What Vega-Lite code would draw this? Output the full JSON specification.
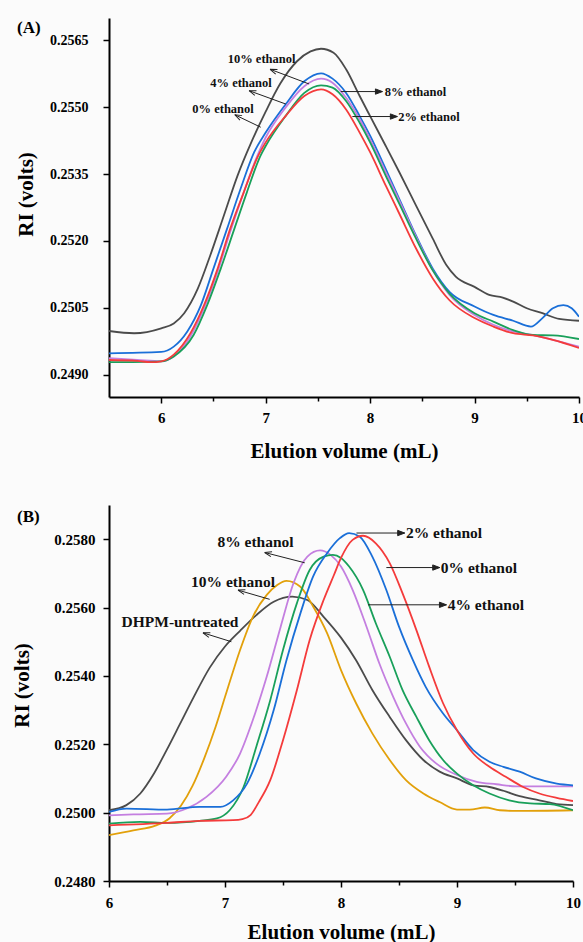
{
  "$schema": "https://vega.github.io/schema/vega-lite/v6.json",
  "background": "#fbfbfb",
  "padding": {"left": 11, "top": 18, "right": 0, "bottom": 0},
  "spacing": 44,
  "align": "none",
  "resolve": {"scale": {"color": "independent"}},
  "config": {
    "font": "Liberation Serif",
    "view": {"stroke": null},
    "axis": {"labelFont": "Liberation Serif", "labelFontWeight": "bold", "titleFont": "Liberation Serif", "titleFontWeight": "bold", "titleFontSize": 21, "domainColor": "black", "domainWidth": 2, "tickColor": "black", "tickWidth": 1.5, "labelColor": "black", "titleColor": "black", "grid": false, "labelOverlap": false, "labelFlush": false}
  },
  "datasets": {
    "curvesA": [
      {"series":"0% ethanol","x":5.5,"y":0.24998},{"series":"0% ethanol","x":5.74,"y":0.24993},{"series":"0% ethanol","x":6.0,"y":0.25004},{"series":"0% ethanol","x":6.12,"y":0.25015},{"series":"0% ethanol","x":6.22,"y":0.25038},{"series":"0% ethanol","x":6.35,"y":0.25093},{"series":"0% ethanol","x":6.47,"y":0.25168},{"series":"0% ethanol","x":6.6,"y":0.25257},{"series":"0% ethanol","x":6.73,"y":0.25346},{"series":"0% ethanol","x":6.86,"y":0.2542},{"series":"0% ethanol","x":7.0,"y":0.2549},{"series":"0% ethanol","x":7.14,"y":0.25553},{"series":"0% ethanol","x":7.3,"y":0.25603},{"series":"0% ethanol","x":7.43,"y":0.25625},{"series":"0% ethanol","x":7.53,"y":0.25631},{"series":"0% ethanol","x":7.65,"y":0.25622},{"series":"0% ethanol","x":7.77,"y":0.25585},{"series":"0% ethanol","x":7.9,"y":0.25525},{"series":"0% ethanol","x":8.0,"y":0.2548},{"series":"0% ethanol","x":8.15,"y":0.25413},{"series":"0% ethanol","x":8.28,"y":0.25354},{"series":"0% ethanol","x":8.44,"y":0.25279},{"series":"0% ethanol","x":8.6,"y":0.25205},{"series":"0% ethanol","x":8.73,"y":0.25146},{"series":"0% ethanol","x":8.82,"y":0.2512},{"series":"0% ethanol","x":9.0,"y":0.25097},{"series":"0% ethanol","x":9.14,"y":0.25079},{"series":"0% ethanol","x":9.27,"y":0.25073},{"series":"0% ethanol","x":9.37,"y":0.25064},{"series":"0% ethanol","x":9.5,"y":0.25049},{"series":"0% ethanol","x":9.65,"y":0.25038},{"series":"0% ethanol","x":9.81,"y":0.25025},{"series":"0% ethanol","x":10.0,"y":0.25021},
      {"series":"4% ethanol","x":5.5,"y":0.24948},{"series":"4% ethanol","x":6.0,"y":0.24951},{"series":"4% ethanol","x":6.12,"y":0.24963},{"series":"4% ethanol","x":6.25,"y":0.24997},{"series":"4% ethanol","x":6.38,"y":0.25056},{"series":"4% ethanol","x":6.5,"y":0.25138},{"series":"4% ethanol","x":6.63,"y":0.25227},{"series":"4% ethanol","x":6.76,"y":0.25317},{"series":"4% ethanol","x":6.89,"y":0.25399},{"series":"4% ethanol","x":7.0,"y":0.25443},{"series":"4% ethanol","x":7.19,"y":0.25506},{"series":"4% ethanol","x":7.37,"y":0.25558},{"series":"4% ethanol","x":7.53,"y":0.25576},{"series":"4% ethanol","x":7.64,"y":0.25564},{"series":"4% ethanol","x":7.77,"y":0.25532},{"series":"4% ethanol","x":7.9,"y":0.2548},{"series":"4% ethanol","x":8.0,"y":0.25436},{"series":"4% ethanol","x":8.15,"y":0.25361},{"series":"4% ethanol","x":8.28,"y":0.25294},{"series":"4% ethanol","x":8.44,"y":0.25212},{"series":"4% ethanol","x":8.6,"y":0.25138},{"series":"4% ethanol","x":8.76,"y":0.25086},{"series":"4% ethanol","x":9.0,"y":0.25053},{"series":"4% ethanol","x":9.18,"y":0.25034},{"series":"4% ethanol","x":9.37,"y":0.25021},{"series":"4% ethanol","x":9.54,"y":0.25008},{"series":"4% ethanol","x":9.65,"y":0.25027},{"series":"4% ethanol","x":9.75,"y":0.25049},{"series":"4% ethanol","x":9.85,"y":0.25056},{"series":"4% ethanol","x":9.93,"y":0.25049},{"series":"4% ethanol","x":10.0,"y":0.2503},
      {"series":"10% ethanol","x":5.5,"y":0.24937},{"series":"10% ethanol","x":5.77,"y":0.24933},{"series":"10% ethanol","x":6.0,"y":0.2493},{"series":"10% ethanol","x":6.12,"y":0.24941},{"series":"10% ethanol","x":6.28,"y":0.24986},{"series":"10% ethanol","x":6.41,"y":0.25049},{"series":"10% ethanol","x":6.54,"y":0.25131},{"series":"10% ethanol","x":6.66,"y":0.2522},{"series":"10% ethanol","x":6.79,"y":0.25309},{"series":"10% ethanol","x":6.92,"y":0.25391},{"series":"10% ethanol","x":7.0,"y":0.25432},{"series":"10% ethanol","x":7.19,"y":0.25499},{"series":"10% ethanol","x":7.37,"y":0.25547},{"series":"10% ethanol","x":7.53,"y":0.25564},{"series":"10% ethanol","x":7.64,"y":0.25555},{"series":"10% ethanol","x":7.77,"y":0.25521},{"series":"10% ethanol","x":7.9,"y":0.25473},{"series":"10% ethanol","x":8.0,"y":0.25428},{"series":"10% ethanol","x":8.15,"y":0.25354},{"series":"10% ethanol","x":8.28,"y":0.2529},{"series":"10% ethanol","x":8.44,"y":0.25209},{"series":"10% ethanol","x":8.6,"y":0.25134},{"series":"10% ethanol","x":8.76,"y":0.25079},{"series":"10% ethanol","x":9.0,"y":0.25034},{"series":"10% ethanol","x":9.18,"y":0.25012},{"series":"10% ethanol","x":9.37,"y":0.24997},{"series":"10% ethanol","x":9.56,"y":0.24989},{"series":"10% ethanol","x":9.75,"y":0.24978},{"series":"10% ethanol","x":10.0,"y":0.24963},
      {"series":"8% ethanol","x":5.5,"y":0.24928},{"series":"8% ethanol","x":6.0,"y":0.2493},{"series":"8% ethanol","x":6.12,"y":0.24941},{"series":"8% ethanol","x":6.31,"y":0.24989},{"series":"8% ethanol","x":6.44,"y":0.25056},{"series":"8% ethanol","x":6.57,"y":0.25138},{"series":"8% ethanol","x":6.7,"y":0.25227},{"series":"8% ethanol","x":6.82,"y":0.25309},{"series":"8% ethanol","x":6.95,"y":0.25391},{"series":"8% ethanol","x":7.0,"y":0.25413},{"series":"8% ethanol","x":7.19,"y":0.2548},{"series":"8% ethanol","x":7.37,"y":0.25532},{"series":"8% ethanol","x":7.53,"y":0.25549},{"series":"8% ethanol","x":7.64,"y":0.25544},{"series":"8% ethanol","x":7.77,"y":0.25514},{"series":"8% ethanol","x":7.9,"y":0.25465},{"series":"8% ethanol","x":8.0,"y":0.25421},{"series":"8% ethanol","x":8.15,"y":0.25346},{"series":"8% ethanol","x":8.28,"y":0.25283},{"series":"8% ethanol","x":8.44,"y":0.25205},{"series":"8% ethanol","x":8.6,"y":0.25134},{"series":"8% ethanol","x":8.76,"y":0.25082},{"series":"8% ethanol","x":9.0,"y":0.25038},{"series":"8% ethanol","x":9.18,"y":0.25019},{"series":"8% ethanol","x":9.37,"y":0.25},{"series":"8% ethanol","x":9.56,"y":0.24989},{"series":"8% ethanol","x":9.75,"y":0.24988},{"series":"8% ethanol","x":10.0,"y":0.2498},
      {"series":"2% ethanol","x":5.5,"y":0.24933},{"series":"2% ethanol","x":5.77,"y":0.24931},{"series":"2% ethanol","x":5.9,"y":0.24928},{"series":"2% ethanol","x":6.0,"y":0.2493},{"series":"2% ethanol","x":6.12,"y":0.24945},{"series":"2% ethanol","x":6.28,"y":0.24993},{"series":"2% ethanol","x":6.41,"y":0.25056},{"series":"2% ethanol","x":6.54,"y":0.25138},{"series":"2% ethanol","x":6.66,"y":0.25227},{"series":"2% ethanol","x":6.79,"y":0.25309},{"series":"2% ethanol","x":6.92,"y":0.25387},{"series":"2% ethanol","x":7.0,"y":0.25421},{"series":"2% ethanol","x":7.19,"y":0.2548},{"series":"2% ethanol","x":7.37,"y":0.25525},{"series":"2% ethanol","x":7.53,"y":0.2554},{"series":"2% ethanol","x":7.64,"y":0.25529},{"series":"2% ethanol","x":7.77,"y":0.25495},{"series":"2% ethanol","x":7.9,"y":0.25443},{"series":"2% ethanol","x":8.0,"y":0.25399},{"series":"2% ethanol","x":8.15,"y":0.25324},{"series":"2% ethanol","x":8.28,"y":0.25261},{"series":"2% ethanol","x":8.44,"y":0.25183},{"series":"2% ethanol","x":8.6,"y":0.25116},{"series":"2% ethanol","x":8.76,"y":0.25067},{"series":"2% ethanol","x":9.0,"y":0.25027},{"series":"2% ethanol","x":9.18,"y":0.25008},{"series":"2% ethanol","x":9.37,"y":0.24993},{"series":"2% ethanol","x":9.56,"y":0.24988},{"series":"2% ethanol","x":9.75,"y":0.24978},{"series":"2% ethanol","x":10.0,"y":0.2496}
    ],
    "curvesB": [
      {"series":"DHPM-untreated","x":6.0,"y":0.25007},{"series":"DHPM-untreated","x":6.15,"y":0.25022},{"series":"DHPM-untreated","x":6.27,"y":0.25056},{"series":"DHPM-untreated","x":6.38,"y":0.2511},{"series":"DHPM-untreated","x":6.5,"y":0.25185},{"series":"DHPM-untreated","x":6.61,"y":0.25258},{"series":"DHPM-untreated","x":6.73,"y":0.25338},{"series":"DHPM-untreated","x":6.87,"y":0.25425},{"series":"DHPM-untreated","x":7.0,"y":0.25486},{"series":"DHPM-untreated","x":7.13,"y":0.25532},{"series":"DHPM-untreated","x":7.27,"y":0.25578},{"series":"DHPM-untreated","x":7.42,"y":0.25617},{"series":"DHPM-untreated","x":7.58,"y":0.25632},{"series":"DHPM-untreated","x":7.71,"y":0.25622},{"series":"DHPM-untreated","x":7.85,"y":0.25573},{"series":"DHPM-untreated","x":8.0,"y":0.25512},{"series":"DHPM-untreated","x":8.13,"y":0.25446},{"series":"DHPM-untreated","x":8.27,"y":0.25359},{"series":"DHPM-untreated","x":8.42,"y":0.2528},{"series":"DHPM-untreated","x":8.56,"y":0.25212},{"series":"DHPM-untreated","x":8.71,"y":0.25154},{"series":"DHPM-untreated","x":8.85,"y":0.2512},{"series":"DHPM-untreated","x":9.0,"y":0.251},{"series":"DHPM-untreated","x":9.14,"y":0.2508},{"series":"DHPM-untreated","x":9.28,"y":0.25075},{"series":"DHPM-untreated","x":9.4,"y":0.25064},{"series":"DHPM-untreated","x":9.54,"y":0.25048},{"series":"DHPM-untreated","x":9.71,"y":0.25036},{"series":"DHPM-untreated","x":9.86,"y":0.25025},{"series":"DHPM-untreated","x":10.0,"y":0.25022},
      {"series":"10% ethanol","x":6.0,"y":0.24934},{"series":"10% ethanol","x":6.21,"y":0.24948},{"series":"10% ethanol","x":6.4,"y":0.24962},{"series":"10% ethanol","x":6.52,"y":0.24983},{"series":"10% ethanol","x":6.62,"y":0.2502},{"series":"10% ethanol","x":6.72,"y":0.25078},{"series":"10% ethanol","x":6.82,"y":0.25158},{"series":"10% ethanol","x":6.92,"y":0.25252},{"series":"10% ethanol","x":7.01,"y":0.25349},{"series":"10% ethanol","x":7.13,"y":0.25476},{"series":"10% ethanol","x":7.24,"y":0.25573},{"series":"10% ethanol","x":7.36,"y":0.25637},{"series":"10% ethanol","x":7.45,"y":0.25666},{"series":"10% ethanol","x":7.53,"y":0.25678},{"series":"10% ethanol","x":7.65,"y":0.25661},{"series":"10% ethanol","x":7.76,"y":0.25603},{"series":"10% ethanol","x":7.88,"y":0.25525},{"series":"10% ethanol","x":8.0,"y":0.25417},{"series":"10% ethanol","x":8.13,"y":0.2532},{"series":"10% ethanol","x":8.27,"y":0.25232},{"series":"10% ethanol","x":8.42,"y":0.25154},{"series":"10% ethanol","x":8.56,"y":0.25095},{"series":"10% ethanol","x":8.71,"y":0.25056},{"series":"10% ethanol","x":8.85,"y":0.25031},{"series":"10% ethanol","x":9.0,"y":0.25009},{"series":"10% ethanol","x":9.11,"y":0.25009},{"series":"10% ethanol","x":9.24,"y":0.25015},{"series":"10% ethanol","x":9.37,"y":0.25007},{"series":"10% ethanol","x":9.51,"y":0.25005},{"series":"10% ethanol","x":10.0,"y":0.25007},
      {"series":"8% ethanol","x":6.0,"y":0.24992},{"series":"8% ethanol","x":6.21,"y":0.24995},{"series":"8% ethanol","x":6.5,"y":0.24997},{"series":"8% ethanol","x":6.67,"y":0.25012},{"series":"8% ethanol","x":6.84,"y":0.25046},{"series":"8% ethanol","x":7.01,"y":0.25105},{"series":"8% ethanol","x":7.13,"y":0.25173},{"series":"8% ethanol","x":7.24,"y":0.25271},{"series":"8% ethanol","x":7.36,"y":0.25398},{"series":"8% ethanol","x":7.48,"y":0.25544},{"series":"8% ethanol","x":7.59,"y":0.25671},{"series":"8% ethanol","x":7.71,"y":0.25749},{"series":"8% ethanol","x":7.82,"y":0.25767},{"series":"8% ethanol","x":7.91,"y":0.25754},{"series":"8% ethanol","x":8.0,"y":0.2572},{"series":"8% ethanol","x":8.1,"y":0.25652},{"series":"8% ethanol","x":8.22,"y":0.25544},{"series":"8% ethanol","x":8.33,"y":0.25437},{"series":"8% ethanol","x":8.45,"y":0.25339},{"series":"8% ethanol","x":8.56,"y":0.25261},{"series":"8% ethanol","x":8.68,"y":0.25193},{"series":"8% ethanol","x":8.82,"y":0.25144},{"series":"8% ethanol","x":9.0,"y":0.2511},{"series":"8% ethanol","x":9.17,"y":0.2509},{"series":"8% ethanol","x":9.34,"y":0.25083},{"series":"8% ethanol","x":9.51,"y":0.25077},{"series":"8% ethanol","x":10.0,"y":0.25077},
      {"series":"4% ethanol","x":6.0,"y":0.24968},{"series":"4% ethanol","x":6.27,"y":0.24973},{"series":"4% ethanol","x":6.5,"y":0.2497},{"series":"4% ethanol","x":6.78,"y":0.24976},{"series":"4% ethanol","x":6.93,"y":0.24983},{"series":"4% ethanol","x":7.04,"y":0.25007},{"series":"4% ethanol","x":7.16,"y":0.25075},{"series":"4% ethanol","x":7.27,"y":0.25193},{"series":"4% ethanol","x":7.39,"y":0.25329},{"series":"4% ethanol","x":7.5,"y":0.25476},{"series":"4% ethanol","x":7.62,"y":0.25613},{"series":"4% ethanol","x":7.73,"y":0.2571},{"series":"4% ethanol","x":7.85,"y":0.25749},{"series":"4% ethanol","x":7.93,"y":0.25754},{"series":"4% ethanol","x":8.0,"y":0.25745},{"series":"4% ethanol","x":8.07,"y":0.2572},{"series":"4% ethanol","x":8.19,"y":0.25652},{"series":"4% ethanol","x":8.3,"y":0.25554},{"series":"4% ethanol","x":8.42,"y":0.25456},{"series":"4% ethanol","x":8.53,"y":0.25359},{"series":"4% ethanol","x":8.65,"y":0.2528},{"series":"4% ethanol","x":8.76,"y":0.25212},{"series":"4% ethanol","x":8.88,"y":0.25154},{"series":"4% ethanol","x":9.0,"y":0.25114},{"series":"4% ethanol","x":9.14,"y":0.2508},{"series":"4% ethanol","x":9.28,"y":0.25056},{"series":"4% ethanol","x":9.45,"y":0.25036},{"series":"4% ethanol","x":9.63,"y":0.25027},{"series":"4% ethanol","x":9.8,"y":0.25025},{"series":"4% ethanol","x":10.0,"y":0.25007},
      {"series":"2% ethanol","x":6.0,"y":0.25002},{"series":"2% ethanol","x":6.15,"y":0.25012},{"series":"2% ethanol","x":6.5,"y":0.25009},{"series":"2% ethanol","x":6.78,"y":0.25017},{"series":"2% ethanol","x":6.96,"y":0.25017},{"series":"2% ethanol","x":7.07,"y":0.25036},{"series":"2% ethanol","x":7.19,"y":0.25085},{"series":"2% ethanol","x":7.3,"y":0.25173},{"series":"2% ethanol","x":7.42,"y":0.253},{"series":"2% ethanol","x":7.53,"y":0.25446},{"series":"2% ethanol","x":7.65,"y":0.25583},{"series":"2% ethanol","x":7.76,"y":0.25691},{"series":"2% ethanol","x":7.88,"y":0.25759},{"series":"2% ethanol","x":7.99,"y":0.25803},{"series":"2% ethanol","x":8.07,"y":0.25818},{"series":"2% ethanol","x":8.16,"y":0.25808},{"series":"2% ethanol","x":8.27,"y":0.25749},{"series":"2% ethanol","x":8.39,"y":0.25652},{"series":"2% ethanol","x":8.5,"y":0.25544},{"series":"2% ethanol","x":8.62,"y":0.25446},{"series":"2% ethanol","x":8.73,"y":0.25368},{"series":"2% ethanol","x":8.88,"y":0.2529},{"series":"2% ethanol","x":9.0,"y":0.25241},{"series":"2% ethanol","x":9.14,"y":0.25183},{"series":"2% ethanol","x":9.28,"y":0.25149},{"series":"2% ethanol","x":9.4,"y":0.25134},{"series":"2% ethanol","x":9.54,"y":0.2512},{"series":"2% ethanol","x":9.68,"y":0.251},{"series":"2% ethanol","x":9.86,"y":0.25085},{"series":"2% ethanol","x":10.0,"y":0.2508},
      {"series":"0% ethanol","x":6.0,"y":0.24963},{"series":"0% ethanol","x":6.5,"y":0.2497},{"series":"0% ethanol","x":6.78,"y":0.24976},{"series":"0% ethanol","x":7.07,"y":0.24978},{"series":"0% ethanol","x":7.15,"y":0.24981},{"series":"0% ethanol","x":7.22,"y":0.24993},{"series":"0% ethanol","x":7.29,"y":0.2503},{"series":"0% ethanol","x":7.39,"y":0.25095},{"series":"0% ethanol","x":7.5,"y":0.25212},{"series":"0% ethanol","x":7.62,"y":0.25359},{"series":"0% ethanol","x":7.73,"y":0.25505},{"series":"0% ethanol","x":7.85,"y":0.25622},{"series":"0% ethanol","x":7.94,"y":0.25696},{"series":"0% ethanol","x":8.0,"y":0.25745},{"series":"0% ethanol","x":8.1,"y":0.25798},{"series":"0% ethanol","x":8.19,"y":0.2581},{"series":"0% ethanol","x":8.3,"y":0.25788},{"series":"0% ethanol","x":8.42,"y":0.2573},{"series":"0% ethanol","x":8.53,"y":0.25642},{"series":"0% ethanol","x":8.65,"y":0.25534},{"series":"0% ethanol","x":8.76,"y":0.25427},{"series":"0% ethanol","x":8.88,"y":0.2532},{"series":"0% ethanol","x":9.0,"y":0.25241},{"series":"0% ethanol","x":9.14,"y":0.25173},{"series":"0% ethanol","x":9.28,"y":0.25134},{"series":"0% ethanol","x":9.42,"y":0.25105},{"series":"0% ethanol","x":9.57,"y":0.25075},{"series":"0% ethanol","x":9.71,"y":0.25056},{"series":"0% ethanol","x":9.86,"y":0.25043},{"series":"0% ethanol","x":10.0,"y":0.25034}
    ],
    "notesA": [
      {"label":"10% ethanol","dir":"left","tx":6.961,"ty":0.25608,"x":7.416,"y":0.25552,"x2":7.042,"y2":0.25585,"angle":201},
      {"label":"4% ethanol","dir":"left","tx":6.764,"ty":0.25554,"x":7.193,"y":0.25507,"x2":6.841,"y2":0.25537,"angle":200},
      {"label":"0% ethanol","dir":"left","tx":6.592,"ty":0.25497,"x":6.953,"y":0.25455,"x2":6.704,"y2":0.25483,"angle":206},
      {"label":"8% ethanol","dir":"right","tx":8.14,"ty":0.25535,"x":7.719,"y":0.25535,"x2":8.118,"y2":0.25535,"angle":0},
      {"label":"2% ethanol","dir":"right","tx":8.27,"ty":0.25479,"x":7.83,"y":0.25479,"x2":8.261,"y2":0.25479,"angle":0}
    ],
    "notesB": [
      {"label":"2% ethanol","dir":"right","tx":8.56,"ty":0.25818,"x":8.133,"y":0.25818,"x2":8.549,"y2":0.25818,"angle":0},
      {"label":"8% ethanol","dir":"left","tx":7.263,"ty":0.25793,"x":7.687,"y":0.25731,"x2":7.342,"y2":0.25761,"angle":194},
      {"label":"0% ethanol","dir":"right","tx":8.86,"ty":0.25717,"x":8.391,"y":0.25717,"x2":8.851,"y2":0.25717,"angle":0},
      {"label":"10% ethanol","dir":"left","tx":7.069,"ty":0.25676,"x":7.385,"y":0.25624,"x2":7.112,"y2":0.25651,"angle":196},
      {"label":"4% ethanol","dir":"right","tx":8.92,"ty":0.25608,"x":8.233,"y":0.25608,"x2":8.909,"y2":0.25608,"angle":0},
      {"label":"DHPM-untreated","dir":"left","tx":6.612,"ty":0.25559,"x":7.055,"y":0.255,"x2":6.81,"y2":0.25526,"angle":198}
    ]
  },
  "vconcat": [
    {
      "width": 470,
      "height": 379,
      "layer": [
        {
          "data": {"name": "curvesA"},
          "mark": {"type": "line", "interpolate": "monotone", "strokeWidth": 1.8, "clip": true},
          "encoding": {
            "x": {"field": "x", "type": "quantitative", "scale": {"domain": [5.5, 10], "nice": false, "zero": false},
              "axis": {"title": "Elution volume (mL)", "values": [6, 6.5, 7, 7.5, 8, 8.5, 9, 9.5, 10], "labelExpr": "datum.value % 1 == 0 ? format(datum.value, 'd') : ''", "labelFontSize": 15, "labelPadding": 7, "titlePadding": 15,
                "tickSize": {"condition": {"test": "datum.value % 1 == 0", "value": 6}, "value": 4}}},
            "y": {"field": "y", "type": "quantitative", "scale": {"domain": [0.2485, 0.257], "nice": false, "zero": false},
              "axis": {"title": "RI (volts)", "values": [0.249, 0.24975, 0.2505, 0.25125, 0.252, 0.25275, 0.2535, 0.25425, 0.255, 0.25575, 0.2565], "labelExpr": "round(datum.value*10000) % 15 == 0 ? format(datum.value, '.4f') : ''", "labelFontSize": 14, "labelPadding": 15, "titlePadding": 13.5, "titleY": 176,
                "tickSize": {"condition": {"test": "round(datum.value*10000) % 15 == 0", "value": 6}, "value": 4}}},
            "color": {"field": "series", "type": "nominal", "legend": null,
              "scale": {"domain": ["0% ethanol", "2% ethanol", "4% ethanol", "8% ethanol", "10% ethanol"], "range": ["#4b4b4b", "#f43b3b", "#1a6fd8", "#19a05a", "#c47fe0"]}}
          }
        },
        {
          "data": {"values": [{"tag": "(A)", "x": 4.619, "y": 0.256776}]},
          "mark": {"type": "text", "font": "Liberation Serif", "fontWeight": "bold", "fontSize": 17, "align": "left", "baseline": "middle", "color": "black", "clip": false},
          "encoding": {"x": {"field": "x", "type": "quantitative"}, "y": {"field": "y", "type": "quantitative"}, "text": {"field": "tag"}}
        },
        {
          "data": {"name": "notesA"},
          "mark": {"type": "rule", "color": "#222222", "strokeWidth": 1},
          "encoding": {"x": {"field": "x", "type": "quantitative"}, "y": {"field": "y", "type": "quantitative"}, "x2": {"field": "x2"}, "y2": {"field": "y2"}}
        },
        {
          "data": {"name": "notesA"},
          "mark": {"type": "point", "filled": true, "fill": "#222222", "stroke": "#222222", "strokeWidth": 1, "opacity": 1, "size": 196},
          "encoding": {"x": {"field": "x2", "type": "quantitative"}, "y": {"field": "y2", "type": "quantitative"},
            "angle": {"field": "angle", "type": "quantitative", "scale": null},
            "shape": {"field": "dir", "type": "nominal", "legend": null, "scale": {"domain": ["left", "right"], "range": ["M0,0L-1,-0.35M0,0L-1,0.35", "M0,0L-1,-0.38L-1,0.38Z"]}}}
        },
        {
          "data": {"name": "notesA"},
          "transform": [{"filter": "datum.dir == 'left'"}],
          "mark": {"type": "text", "font": "Liberation Serif", "fontWeight": "bold", "fontSize": 12.5, "align": "center", "baseline": "middle", "color": "#111111"},
          "encoding": {"x": {"field": "tx", "type": "quantitative"}, "y": {"field": "ty", "type": "quantitative"}, "text": {"field": "label"}}
        },
        {
          "data": {"name": "notesA"},
          "transform": [{"filter": "datum.dir == 'right'"}],
          "mark": {"type": "text", "font": "Liberation Serif", "fontWeight": "bold", "fontSize": 12.5, "align": "left", "baseline": "middle", "color": "#111111"},
          "encoding": {"x": {"field": "tx", "type": "quantitative"}, "y": {"field": "ty", "type": "quantitative"}, "text": {"field": "label"}}
        }
      ]
    },
    {
      "width": 464,
      "height": 376,
      "layer": [
        {
          "data": {"name": "curvesB"},
          "mark": {"type": "line", "interpolate": "monotone", "strokeWidth": 1.8, "clip": true},
          "encoding": {
            "x": {"field": "x", "type": "quantitative", "scale": {"domain": [6, 10], "nice": false, "zero": false},
              "axis": {"title": "Elution volume (mL)", "values": [6, 6.5, 7, 7.5, 8, 8.5, 9, 9.5, 10], "labelExpr": "datum.value % 1 == 0 ? format(datum.value, 'd') : ''", "labelFontSize": 15, "labelPadding": 8, "titlePadding": 11,
                "tickSize": {"condition": {"test": "datum.value % 1 == 0", "value": 6}, "value": 4}}},
            "y": {"field": "y", "type": "quantitative", "scale": {"domain": [0.248, 0.259], "nice": false, "zero": false},
              "axis": {"title": "RI (volts)", "values": [0.248, 0.249, 0.25, 0.251, 0.252, 0.253, 0.254, 0.255, 0.256, 0.257, 0.258], "labelExpr": "round(datum.value*10000) % 20 == 0 ? format(datum.value, '.4f') : ''", "labelFontSize": 15, "labelPadding": 8, "titlePadding": 21.75, "titleY": 180,
                "tickSize": {"condition": {"test": "round(datum.value*10000) % 20 == 0", "value": 6}, "value": 4}}},
            "color": {"field": "series", "type": "nominal", "legend": null,
              "scale": {"domain": ["DHPM-untreated", "0% ethanol", "2% ethanol", "4% ethanol", "8% ethanol", "10% ethanol"], "range": ["#4b4b4b", "#f43b3b", "#1a6fd8", "#19a05a", "#c47fe0", "#e2a00a"]}}
          }
        },
        {
          "data": {"values": [{"tag": "(B)", "x": 5.207, "y": 0.258649}]},
          "mark": {"type": "text", "font": "Liberation Serif", "fontWeight": "bold", "fontSize": 17, "align": "left", "baseline": "middle", "color": "black", "clip": false},
          "encoding": {"x": {"field": "x", "type": "quantitative"}, "y": {"field": "y", "type": "quantitative"}, "text": {"field": "tag"}}
        },
        {
          "data": {"name": "notesB"},
          "mark": {"type": "rule", "color": "#222222", "strokeWidth": 1},
          "encoding": {"x": {"field": "x", "type": "quantitative"}, "y": {"field": "y", "type": "quantitative"}, "x2": {"field": "x2"}, "y2": {"field": "y2"}}
        },
        {
          "data": {"name": "notesB"},
          "mark": {"type": "point", "filled": true, "fill": "#222222", "stroke": "#222222", "strokeWidth": 1, "opacity": 1, "size": 196},
          "encoding": {"x": {"field": "x2", "type": "quantitative"}, "y": {"field": "y2", "type": "quantitative"},
            "angle": {"field": "angle", "type": "quantitative", "scale": null},
            "shape": {"field": "dir", "type": "nominal", "legend": null, "scale": {"domain": ["left", "right"], "range": ["M0,0L-1,-0.35M0,0L-1,0.35", "M0,0L-1,-0.38L-1,0.38Z"]}}}
        },
        {
          "data": {"name": "notesB"},
          "transform": [{"filter": "datum.dir == 'left'"}],
          "mark": {"type": "text", "font": "Liberation Serif", "fontWeight": "bold", "fontSize": 15.5, "align": "center", "baseline": "middle", "color": "#111111"},
          "encoding": {"x": {"field": "tx", "type": "quantitative"}, "y": {"field": "ty", "type": "quantitative"}, "text": {"field": "label"}}
        },
        {
          "data": {"name": "notesB"},
          "transform": [{"filter": "datum.dir == 'right'"}],
          "mark": {"type": "text", "font": "Liberation Serif", "fontWeight": "bold", "fontSize": 15.5, "align": "left", "baseline": "middle", "color": "#111111"},
          "encoding": {"x": {"field": "tx", "type": "quantitative"}, "y": {"field": "ty", "type": "quantitative"}, "text": {"field": "label"}}
        }
      ]
    }
  ]
}
